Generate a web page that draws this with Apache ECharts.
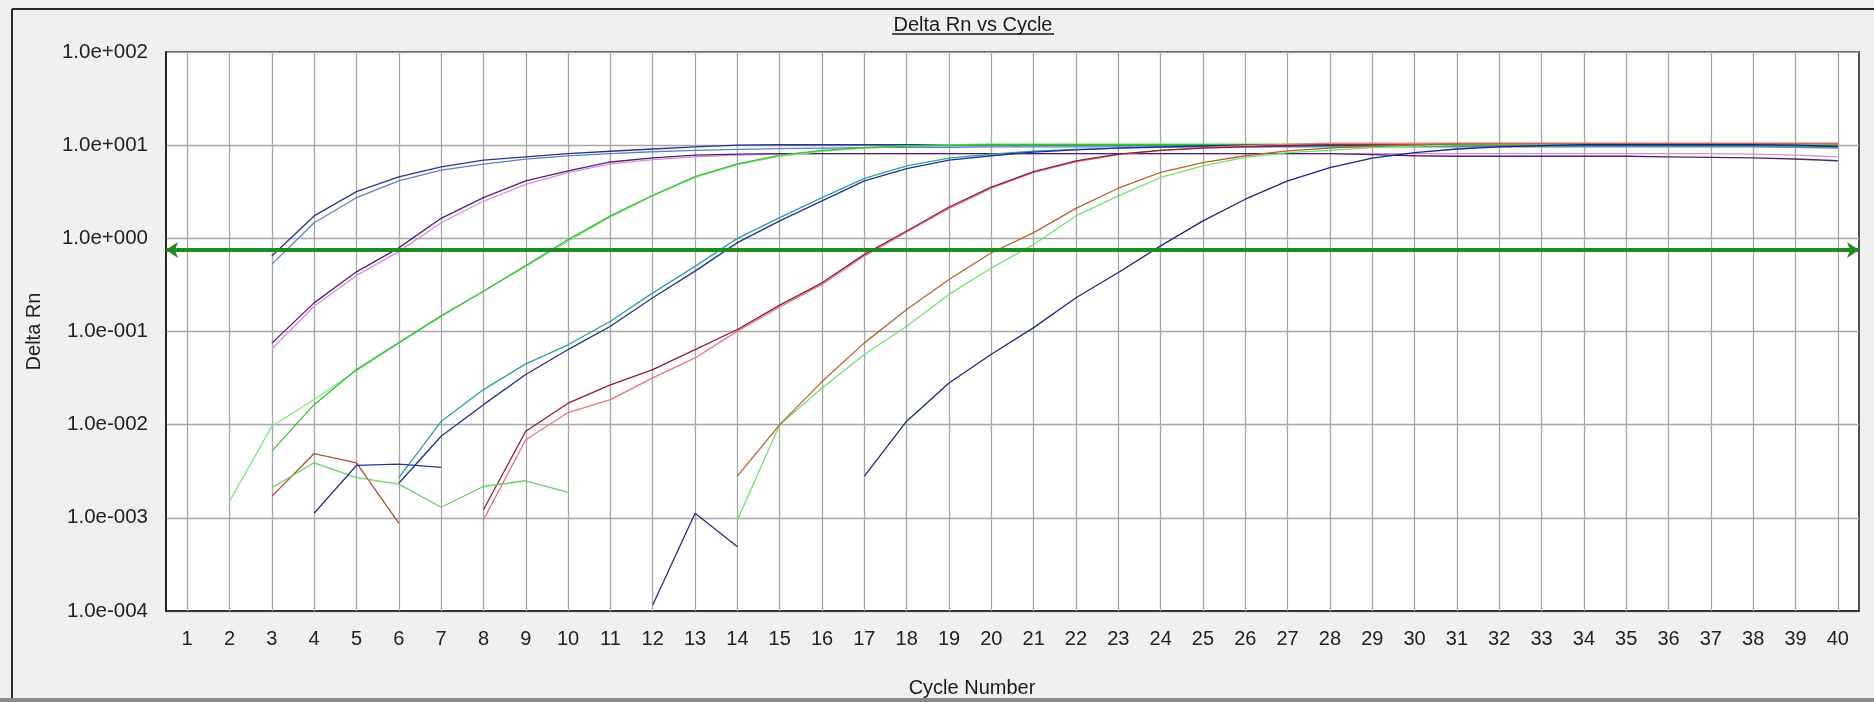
<!DOCTYPE html>
<html>
<head>
<meta charset="utf-8">
<script src="https://cdn.jsdelivr.net/npm/echarts@6/dist/echarts.min.js"></script>
<style>
html,body{margin:0;padding:0;background:#f0f0f0;}
#chart{width:1874px;height:702px;}
</style>
</head>
<body>
<div id="chart"></div>
<script>
// ---- data ----
var cycles = [];
for (var i = 1; i <= 40; i++) cycles.push(String(i));
var yTickLabels = ['1.0e-004','1.0e-003','1.0e-002','1.0e-001','1.0e+000','1.0e+001','1.0e+002'];
var thresholdValue = 0.75;
var n = null;

// values by cycle 1..40 (null = not plotted)
var wellA1 = [n,n,0.645,1.74,3.17,4.57,5.85,6.9,7.5,8.1,8.6,9.1,9.6,10.0,10.1,10.1,10.1,10.1,10.1,10.1,10.1,10.1,10.1,10.1,10.1,10.1,10.1,10.1,10.1,10.1,10.1,10.1,10.1,10.1,10.1,10.1,10.1,10.1,10.0,9.7];
var wellA2 = [n,n,0.525,1.47,2.73,4.13,5.4,6.25,7.07,7.67,8.1,8.5,8.8,9.0,9.2,9.3,9.4,9.5,9.5,9.6,9.6,9.6,9.6,9.6,9.6,9.6,9.6,9.6,9.6,9.6,9.6,9.6,9.6,9.6,9.6,9.6,9.6,9.6,9.5,9.3];
var wellB1 = [n,n,0.075,0.203,0.437,0.79,1.64,2.73,4.13,5.3,6.6,7.3,7.8,8.0,8.1,8.1,8.1,8.1,8.1,8.1,8.1,8.1,8.1,8.1,8.1,8.1,8.1,8.1,7.9,7.7,7.6,7.6,7.6,7.6,7.6,7.5,7.4,7.3,7.1,6.8];
var wellB2 = [n,n,0.065,0.187,0.40,0.72,1.47,2.5,3.8,5.07,6.3,7.0,7.5,7.8,8.0,8.1,8.1,8.1,8.1,8.1,8.1,8.1,8.1,8.1,8.1,8.1,8.1,8.1,8.1,8.1,8.1,8.1,8.1,8.1,8.1,8.1,8.1,8.0,7.8,7.5];
var wellC1 = [n,0.0015,0.0096,0.0186,0.038,0.075,0.145,0.27,0.50,0.93,1.7,2.85,4.5,6.2,7.6,8.6,9.3,9.8,10.1,10.3,10.3,10.3,10.3,10.3,10.3,10.3,10.3,10.3,10.3,10.3,10.3,10.3,10.3,10.3,10.3,10.3,10.3,10.3,10.2,10.0];
var wellC2 = [n,n,0.0052,0.0164,0.039,0.076,0.147,0.27,0.51,0.97,1.74,2.9,4.6,6.3,7.8,8.8,9.4,9.8,10.0,10.1,10.1,10.1,10.1,10.1,10.1,10.1,10.1,10.1,10.1,10.1,10.1,10.1,10.1,10.1,10.1,10.1,10.1,10.1,10.1,10.0];
var wellD1 = [n,n,n,n,n,0.0027,0.0108,0.0238,0.0449,0.072,0.129,0.26,0.50,1.0,1.67,2.74,4.4,6.0,7.25,8.0,8.6,9.0,9.3,9.5,9.7,9.7,9.7,9.7,9.7,9.7,9.7,9.7,9.7,9.7,9.7,9.7,9.7,9.7,9.7,9.5];
var wellD2 = [n,n,n,n,n,0.00235,0.0075,0.0164,0.0345,0.064,0.114,0.23,0.445,0.90,1.54,2.52,4.13,5.6,6.9,7.7,8.4,8.9,9.3,9.6,9.8,10.0,10.0,10.0,10.0,10.0,10.0,10.0,10.0,10.0,10.0,10.0,10.0,10.0,10.0,9.8];
var wellE1 = [n,n,n,n,n,n,n,0.00122,0.0085,0.017,0.0267,0.039,0.064,0.105,0.192,0.333,0.673,1.2,2.17,3.55,5.2,6.8,8.0,8.8,9.3,9.6,9.8,10.0,10.0,10.0,10.0,10.0,10.0,10.0,10.0,10.0,10.0,10.0,10.0,10.0];
var wellE2 = [n,n,n,n,n,n,n,0.00095,0.0069,0.0135,0.0186,0.0318,0.052,0.101,0.183,0.32,0.645,1.17,2.1,3.45,5.1,6.6,7.9,8.8,9.4,9.9,10.2,10.5,10.5,10.5,10.5,10.5,10.5,10.5,10.5,10.5,10.5,10.5,10.5,10.5];
var wellF1 = [n,n,n,n,n,n,n,n,n,n,n,n,n,0.0028,0.01,0.029,0.0755,0.172,0.362,0.70,1.15,2.1,3.45,5.1,6.5,7.7,8.7,9.3,9.8,10.1,10.3,10.3,10.3,10.3,10.3,10.3,10.3,10.3,10.3,10.3];
var wellF2 = [n,n,n,n,n,n,n,n,n,n,n,n,n,0.00095,0.01,0.0248,0.0566,0.114,0.25,0.48,0.86,1.74,2.85,4.5,6.0,7.4,8.3,8.8,9.4,9.8,10.0,10.1,10.1,10.1,10.1,10.1,10.1,10.1,10.1,10.1];
var wellG  = [n,n,n,n,n,n,n,n,n,n,n,n,n,n,n,n,0.0028,0.0109,0.028,0.057,0.11,0.23,0.43,0.83,1.54,2.63,4.13,5.75,7.25,8.3,9.1,9.6,9.9,10.1,10.1,10.1,10.1,10.1,10.0,9.7];
var noiseN1 = [n,n,0.0017,0.0049,0.0039,0.00088,n,n,n,n,n,n,n,n,n,n,n,n,n,n,n,n,n,n,n,n,n,n,n,n,n,n,n,n,n,n,n,n,n,n];
var noiseN2 = [n,n,0.0021,0.0039,0.0027,0.0023,0.0013,0.00217,0.0025,0.00188,n,n,n,n,n,n,n,n,n,n,n,n,n,n,n,n,n,n,n,n,n,n,n,n,n,n,n,n,n,n];
var noiseN3 = [n,n,n,0.00112,0.00365,0.00377,0.00348,n,n,n,n,n,n,n,n,n,n,n,n,n,n,n,n,n,n,n,n,n,n,n,n,n,n,n,n,n,n,n,n,n];
var noiseN4 = [n,n,n,n,n,n,n,n,n,n,n,0.000116,0.00112,0.00049,n,n,n,n,n,n,n,n,n,n,n,n,n,n,n,n,n,n,n,n,n,n,n,n,n,n];

var seriesDefs = [
  ['A2', wellA2, '#5a84c4'],
  ['A1', wellA1, '#2a3590'],
  ['B2', wellB2, '#d98ad9'],
  ['B1', wellB1, '#4a2370'],
  ['C1', wellC1, '#86e486'],
  ['C2', wellC2, '#35c235'],
  ['D1', wellD1, '#2aa0a0'],
  ['D2', wellD2, '#24318c'],
  ['E2', wellE2, '#e8757a'],
  ['E1', wellE1, '#8b1c3c'],
  ['F2', wellF2, '#70e070'],
  ['F1', wellF1, '#b5652b'],
  ['G',  wellG,  '#1c2580'],
  ['N1', noiseN1, '#a8502a'],
  ['N2', noiseN2, '#66d066'],
  ['N3', noiseN3, '#26339a'],
  ['N4', noiseN4, '#2a2a80']
];

var FONT = '"Liberation Sans", Arial, sans-serif';
var chart = echarts.init(document.getElementById('chart'), null, {renderer: 'canvas'});

var series = seriesDefs.map(function (d, idx) {
  var s = {
    name: d[0],
    type: 'line',
    data: d[1],
    symbol: 'none',
    connectNulls: false,
    lineStyle: {color: d[2], width: 1.3},
    itemStyle: {color: d[2]},
    z: 3
  };
  if (idx === 0) {
    s.markLine = {
      silent: true,
      symbol: ['arrow', 'arrow'],
      symbolSize: [12, 12],
      label: {show: false},
      lineStyle: {color: '#1f8a1f', width: 4, type: 'solid'},
      data: [{yAxis: thresholdValue}],
      z: 5
    };
  }
  return s;
});

var option = {
  animation: false,
  backgroundColor: '#f0f0f0',
  grid: {
    left: 166, top: 52, width: 1693, height: 559,
    show: true, backgroundColor: '#ffffff', borderColor: '#1a1a1a', borderWidth: 1.5
  },
  xAxis: {
    type: 'category',
    data: cycles,
    boundaryGap: true,
    axisLine: {show: true, lineStyle: {color: '#1a1a1a', width: 1.5}},
    axisTick: {show: true, alignWithLabel: true, inside: true, length: 559,
               lineStyle: {color: '#a6a6a6', width: 1.3}},
    splitLine: {show: false},
    axisLabel: {fontSize: 20, color: '#222', fontFamily: FONT, margin: 18, interval: 0}
  },
  yAxis: {
    type: 'log',
    logBase: 10,
    min: 0.0001,
    max: 100,
    name: 'Delta Rn',
    nameLocation: 'middle',
    nameRotate: 90,
    nameGap: 122,
    nameTextStyle: {fontSize: 20, color: '#222', fontFamily: FONT},
    axisLine: {show: true, lineStyle: {color: '#1a1a1a', width: 1.5}},
    axisTick: {show: false},
    splitLine: {show: true, lineStyle: {color: '#a6a6a6', width: 1.3}},
    axisLabel: {
      fontSize: 20.5, color: '#222', fontFamily: FONT, margin: 18,
      formatter: function (v) {
        var k = Math.round(Math.log(v) / Math.LN10) + 4;
        return yTickLabels[k] || '';
      }
    }
  },
  graphic: [
    {type: 'line', z: 100, shape: {x1: 12, y1: 9, x2: 1874, y2: 9}, style: {stroke: '#2a2a2a', lineWidth: 2}},
    {type: 'line', z: 100, shape: {x1: 12, y1: 9, x2: 12, y2: 702}, style: {stroke: '#2a2a2a', lineWidth: 2}},
    {type: 'rect', z: 100, shape: {x: 0, y: 698, width: 1874, height: 4}, style: {fill: '#8a8a8a'}},
    {type: 'text', z: 100, x: 973, y: 25,
     style: {text: 'Delta Rn vs Cycle', font: '20px ' + FONT, fill: '#1a1a1a', textAlign: 'center', textVerticalAlign: 'middle'}},
    {type: 'line', z: 100, shape: {x1: 892, y1: 34, x2: 1054, y2: 34}, style: {stroke: '#1a1a1a', lineWidth: 1.5}},
    {type: 'text', z: 100, x: 972, y: 688,
     style: {text: 'Cycle Number', font: '20px ' + FONT, fill: '#1a1a1a', textAlign: 'center', textVerticalAlign: 'middle'}}
  ],
  series: series
};
chart.setOption(option);
</script>
</body>
</html>
